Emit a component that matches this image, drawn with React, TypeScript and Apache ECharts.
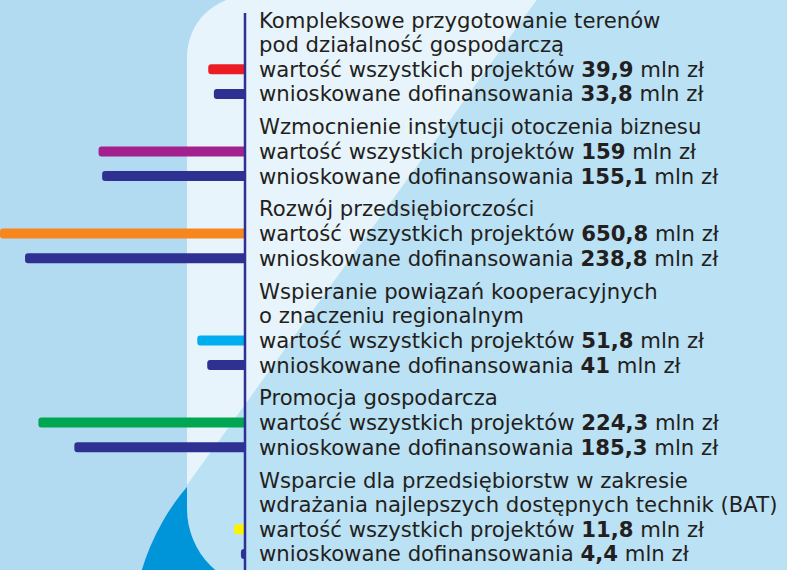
import React, { useEffect, useRef } from "react";
import * as echarts from "echarts";

// ---------- data ----------
const groupTitles: string[][] = [
  ["Kompleksowe przygotowanie terenów", "pod działalność gospodarczą"],
  ["Wzmocnienie instytucji otoczenia biznesu"],
  ["Rozwój przedsiębiorczości"],
  ["Wspieranie powiązań kooperacyjnych", "o znaczeniu regionalnym"],
  ["Promocja gospodarcza"],
  ["Wsparcie dla przedsiębiorstw w zakresie", "wdrażania najlepszych dostępnych technik (BAT)"],
];
const totalValues = [39.9, 159, 650.8, 51.8, 224.3, 11.8];
const requestedValues = [33.8, 155.1, 238.8, 41, 185.3, 4.4];
const totalColors = ["#ED1C24", "#A3218E", "#F7861F", "#00AEEF", "#00A651", "#FFF200"];
const requestedColor = "#2E3192";
const totalLabel = "wartość wszystkich projektów";
const requestedLabel = "wnioskowane dofinansowania";
const unitLabel = "mln zł";

const fmt = (v: number) => String(v).replace(".", ",");

// Build slot-based category axis: each text line = 3 slots, gap between groups = 1 slot
const slotIds: string[] = [];
const slotLabels: string[] = [];
const totalData: any[] = [];
const requestedData: any[] = [];
const pushSlot = (label: string, total: any, req: any) => {
  slotIds.push("s" + slotIds.length);
  slotLabels.push(label);
  totalData.push(total);
  requestedData.push(req);
};
groupTitles.forEach((titles, g) => {
  if (g > 0) pushSlot("", null, null);
  const lines: { text: string; total: any; req: any }[] = titles.map((t) => ({ text: t, total: null, req: null }));
  lines.push({
    text: `${totalLabel} {b|${fmt(totalValues[g])}} ${unitLabel}`,
    total: { value: totalValues[g], itemStyle: { color: totalColors[g] } },
    req: null,
  });
  lines.push({
    text: `${requestedLabel} {b|${fmt(requestedValues[g])}} ${unitLabel}`,
    total: null,
    req: { value: requestedValues[g], itemStyle: { color: requestedColor } },
  });
  lines.forEach((l) => {
    pushSlot("", null, null);
    pushSlot(l.text, l.total, l.req);
    pushSlot("", null, null);
  });
});

const FONT = "DejaVu Sans";
const FONT_SIZE = 21.2;

export default function App() {
  const ref = useRef<HTMLDivElement>(null);
  useEffect(() => {
    if (!ref.current) return;
    const chart = echarts.init(ref.current, undefined, { renderer: "svg" });
    const diagTop = 551;
    chart.setOption({
      animation: false,
      backgroundColor: "#B2DAF0",
      grid: { left: 0, width: 245, top: 7.7, height: 558.6, containLabel: false },
      xAxis: {
        type: "value",
        inverse: true,
        min: 0,
        max: 266,
        axisLine: { show: false },
        axisTick: { show: false },
        axisLabel: { show: false },
        splitLine: { show: false },
      },
      yAxis: {
        type: "category",
        data: slotIds,
        inverse: true,
        position: "right",
        z: 10,
        axisLine: { show: false },
        axisTick: { show: false },
        splitLine: { show: false },
        axisLabel: {
          interval: 0,
          margin: 14,
          color: "#231F20",
          fontFamily: FONT,
          fontSize: FONT_SIZE,
          formatter: (_v: string, i: number) => slotLabels[i],
          rich: {
            b: { fontWeight: "bold", fontFamily: FONT, fontSize: FONT_SIZE, color: "#231F20" },
          },
        },
      },
      graphic: [
        { type: "circle", z: -10, shape: { cx: 365, cy: 637, r: 233 }, style: { fill: "#0095D9" } },
        { type: "circle", z: -10, shape: { cx: 800, cy: -12, r: 19 }, style: { fill: "#0095D9" } },
        {
          type: "rect",
          z: -9,
          shape: { x: 187, y: -4, width: 700, height: 593, r: [61, 0, 0, 80] },
          style: { fill: "#BBE1F5" },
        },
        {
          type: "rect",
          z: -8,
          shape: { x: 187, y: -4, width: diagTop - 187, height: 489, r: [61, 0, 0, 0] },
          style: { fill: "#E8F4FB" },
        },
        {
          type: "polygon",
          z: -7,
          shape: { points: [[diagTop, -20], [diagTop + 2, 487], [187, 487], [187, 485]] },
          style: { fill: "#BBE1F5" },
        },
        {
          type: "line",
          z: 20,
          shape: { x1: 245, y1: 13, x2: 245, y2: 570 },
          style: { stroke: requestedColor, lineWidth: 2.5 },
        },
      ],
      series: [
        {
          type: "bar",
          data: totalData,
          barWidth: 10,
          barGap: "-100%",
          itemStyle: { borderRadius: [3, 0, 0, 3] },
        },
        {
          type: "bar",
          data: requestedData,
          barWidth: 10,
          barGap: "-100%",
          itemStyle: { color: requestedColor, borderRadius: [3, 0, 0, 3] },
        },
      ],
    });
    return () => chart.dispose();
  }, []);
  return (
    <div
      ref={ref}
      style={{ position: "absolute", left: 0, top: 0, width: 787, height: 570 }}
    />
  );
}
